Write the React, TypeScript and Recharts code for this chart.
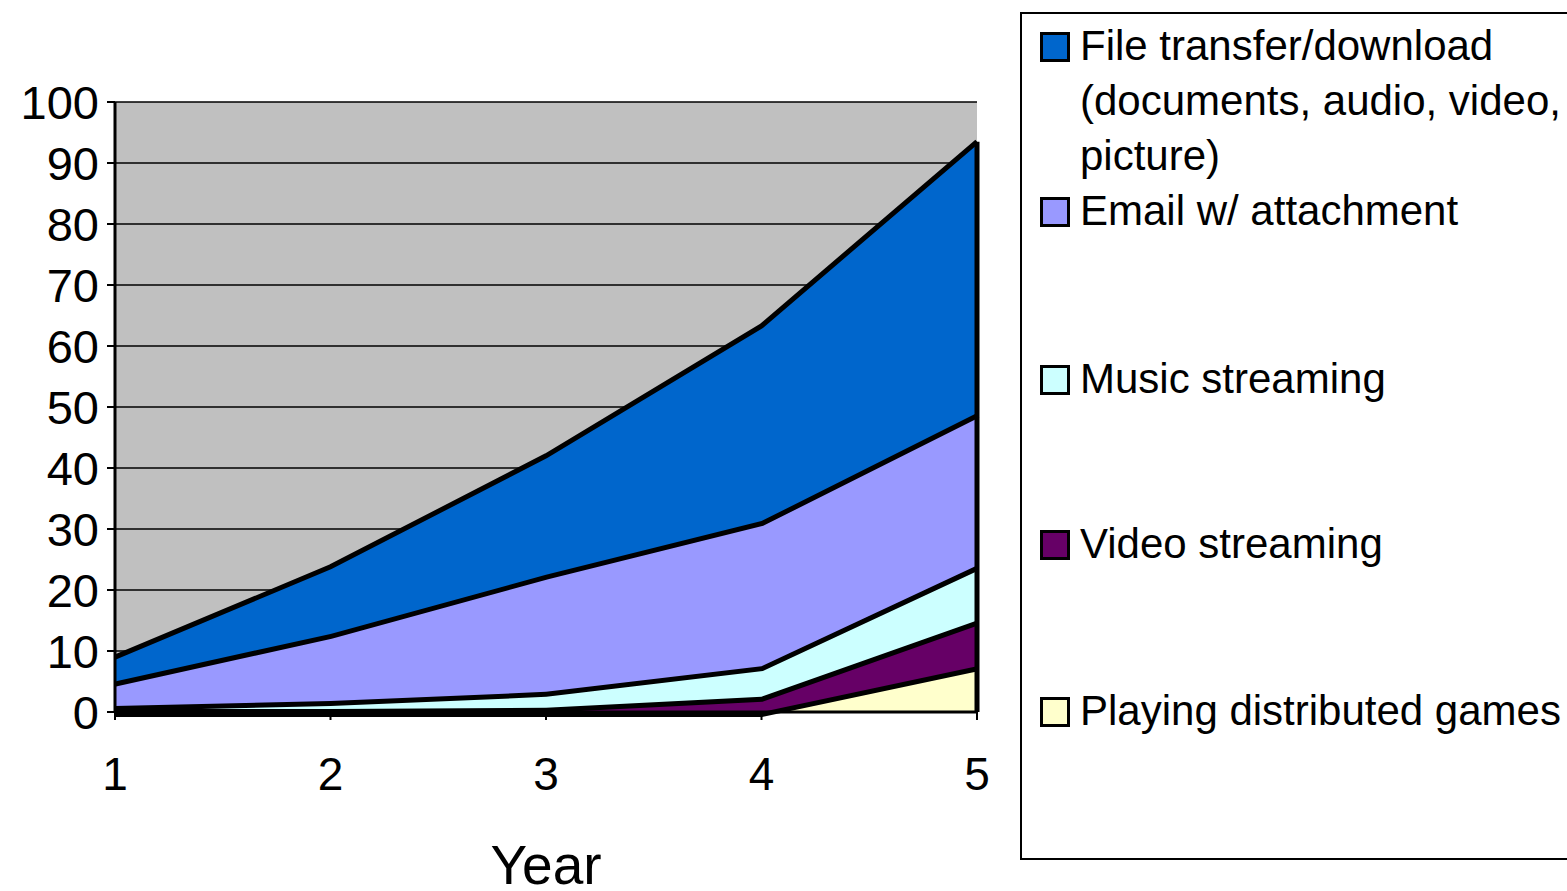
import React from 'react';
import { AreaChart, Area, XAxis, YAxis, CartesianGrid, ReferenceLine } from 'recharts';

const years = [1, 2, 3, 4, 5];
const games = [0, 0, 0, 0, 7.5];
const video = [0.5, 0.5, 0.7, 2.5, 7.5];
const music = [0.5, 1.3, 2.6, 5, 9];
const email = [4, 11, 19.2, 23.8, 25];
const fileTransfer = [4, 11, 19.5, 32, 44.5];
const yTicks = [0, 10, 20, 30, 40, 50, 60, 70, 80, 90, 100];

const seriesNames = {
  file: 'File transfer/download (documents, audio, video, picture)',
  email: 'Email w/ attachment',
  music: 'Music streaming',
  video: 'Video streaming',
  games: 'Playing distributed games',
};

const data = years.map((y, i) => ({
  year: y,
  games: games[i],
  video: video[i],
  music: music[i],
  email: email[i],
  file: fileTransfer[i],
}));

const lastIdx = years.length - 1;
const lastTotal = games[lastIdx] + video[lastIdx] + music[lastIdx] + email[lastIdx] + fileTransfer[lastIdx];

const FONT = 'Arial, "Liberation Sans", sans-serif';

const legendItems = [
  { lines: ['File transfer/download', '(documents, audio, video,', 'picture)'], color: '#0066CC', top: 4 },
  { lines: ['Email w/ attachment'], color: '#9999FF', top: 169 },
  { lines: ['Music streaming'], color: '#CCFFFF', top: 337 },
  { lines: ['Video streaming'], color: '#660066', top: 502 },
  { lines: ['Playing distributed games'], color: '#FFFFCC', top: 669 },
];

const LegendBox = () => (
  <div
    style={{
      position: 'absolute',
      left: 1020,
      top: 12,
      width: 560,
      height: 848,
      border: '2px solid #000',
      boxSizing: 'border-box',
      background: '#fff',
      fontFamily: FONT,
      fontSize: 42,
      color: '#000',
    }}
  >
    {legendItems.map((it) => (
      <div key={it.lines[0]} style={{ position: 'absolute', left: 0, top: it.top, width: 560 }}>
        <div
          style={{
            position: 'absolute',
            left: 18,
            top: 14,
            width: 30,
            height: 30,
            border: '3px solid #000',
            boxSizing: 'border-box',
            background: it.color,
          }}
        />
        <div style={{ position: 'absolute', left: 58, top: 0, lineHeight: '55px', whiteSpace: 'nowrap' }}>
          {it.lines.map((l) => (
            <div key={l}>{l}</div>
          ))}
        </div>
      </div>
    ))}
  </div>
);

const YearLabel = (props: any) => {
  const vb = props.viewBox || {};
  return (
    <text x={vb.x + vb.width / 2} y={vb.y + 172} textAnchor="middle" fontFamily={FONT} fontSize={55} fill="#000">
      Year
    </text>
  );
};

export default function App() {
  return (
    <div style={{ position: 'absolute', left: 0, top: 0, width: 1567, height: 891, overflow: 'hidden', background: '#fff' }}>
      <AreaChart width={1567} height={891} data={data} margin={{ top: 102, right: 590, bottom: 9, left: 15 }}>
        <CartesianGrid fill="#C0C0C0" stroke="#000" strokeWidth={1.5} vertical={false} />
        <XAxis
          dataKey="year"
          type="number"
          domain={[1, 5]}
          ticks={years}
          height={170}
          tickSize={8}
          tickMargin={37}
          axisLine={{ stroke: '#000', strokeWidth: 3 }}
          tickLine={{ stroke: '#000', strokeWidth: 2 }}
          tick={{ fill: '#000', fontSize: 46, fontFamily: FONT }}
          label={<YearLabel />}
        />
        <YAxis
          domain={[0, 100]}
          ticks={yTicks}
          width={100}
          tickSize={8}
          tickMargin={8}
          axisLine={{ stroke: '#000', strokeWidth: 3 }}
          tickLine={{ stroke: '#000', strokeWidth: 2 }}
          tick={{ fill: '#000', fontSize: 47, fontFamily: FONT }}
          interval={0}
        />
        <Area type="linear" dataKey="games" name={seriesNames.games} stackId="s" fill="#FFFFCC" fillOpacity={1} stroke="#000" strokeWidth={10} isAnimationActive={false} dot={false} activeDot={false} />
        <Area type="linear" dataKey="video" name={seriesNames.video} stackId="s" fill="#660066" fillOpacity={1} stroke="#000" strokeWidth={10} isAnimationActive={false} dot={false} activeDot={false} />
        <Area type="linear" dataKey="music" name={seriesNames.music} stackId="s" fill="#CCFFFF" fillOpacity={1} stroke="#000" strokeWidth={10} isAnimationActive={false} dot={false} activeDot={false} />
        <Area type="linear" dataKey="email" name={seriesNames.email} stackId="s" fill="#9999FF" fillOpacity={1} stroke="#000" strokeWidth={10} isAnimationActive={false} dot={false} activeDot={false} />
        <Area type="linear" dataKey="file" name={seriesNames.file} stackId="s" fill="#0066CC" fillOpacity={1} stroke="#000" strokeWidth={5} isAnimationActive={false} dot={false} activeDot={false} />
        <ReferenceLine segment={[{ x: 5, y: 0 }, { x: 5, y: lastTotal }]} stroke="#000" strokeWidth={5} ifOverflow="visible" />
      </AreaChart>
      <LegendBox />
    </div>
  );
}
